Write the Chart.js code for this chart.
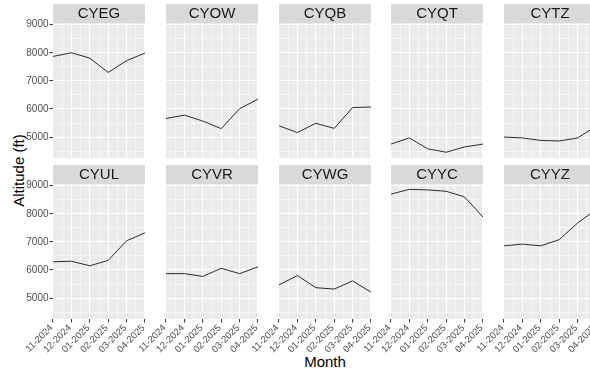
<!DOCTYPE html>
<html><head><meta charset="utf-8">
<script src="https://cdn.jsdelivr.net/npm/chart.js@4.4.0/dist/chart.umd.min.js"></script>
<style>
html,body{margin:0;padding:0;background:#fff;}
#wrap{position:relative;width:590px;height:373px;overflow:hidden;background:#fff;}
canvas{position:absolute;}
.t{position:absolute;font-family:"Liberation Sans",Arial,sans-serif;font-size:15px;line-height:15px;color:#000;text-align:center;white-space:nowrap;}
</style></head>
<body><div id="wrap">
<div class="t" id="xt" style="left:275px;top:354px;width:100px;">Month</div>
<div class="t" id="yt" style="left:-82px;top:163px;width:200px;transform:rotate(-90deg);">Altitude (ft)</div>
</div>
<script>
const months = ['11-2024','12-2024','01-2025','02-2025','03-2025','04-2025'];
const stations = ['CYEG','CYOW','CYQB','CYQT','CYTZ','CYUL','CYVR','CYWG','CYYC','CYYZ'];
const CYEG = [7870, 8000, 7810, 7300, 7720, 7990];
const CYOW = [5660, 5780, 5570, 5300, 6010, 6350];
const CYQB = [5400, 5160, 5490, 5310, 6050, 6070];
const CYQT = [4750, 4970, 4580, 4460, 4650, 4750];
const CYTZ = [5000, 4970, 4880, 4860, 4970, 5380];
const CYUL = [6290, 6310, 6150, 6340, 7040, 7320];
const CYVR = [5870, 5870, 5770, 6060, 5870, 6110];
const CYWG = [5470, 5800, 5370, 5320, 5610, 5210];
const CYYC = [8700, 8870, 8850, 8800, 8600, 7880];
const CYYZ = [6860, 6920, 6860, 7080, 7670, 8150];
const yTicks = [5000, 6000, 7000, 8000, 9000];

const series = {CYEG, CYOW, CYQB, CYQT, CYTZ, CYUL, CYVR, CYWG, CYYC, CYYZ};

const FONT = '"Liberation Sans", Arial, sans-serif';
const colLeft = [53, 166, 279, 391, 504];
const PW = 92, AXW = 53, STRIP = 19;

const yAll = [];
for (let v = yTicks[0] - 500; v <= yTicks[yTicks.length - 1]; v += 500) yAll.push(v);
const xAll = [];
for (let k = 0; k <= 2 * (months.length - 1); k++) xAll.push(k / 2);

function panelPlugin(label) {
  return {
    id: 'panel_' + label,
    beforeDraw(chart) {
      const {ctx, chartArea: a} = chart;
      ctx.save();
      ctx.fillStyle = '#ebebeb';
      ctx.fillRect(a.left, a.top, a.right - a.left, a.bottom - a.top);
      ctx.fillStyle = '#d9d9d9';
      ctx.fillRect(a.left, a.top - STRIP, a.right - a.left, STRIP);
      ctx.fillStyle = '#1a1a1a';
      ctx.font = '15px ' + FONT;
      ctx.textAlign = 'center';
      ctx.textBaseline = 'middle';
      ctx.fillText(label, (a.left + a.right) / 2, a.top - STRIP / 2 + 0.5);
      ctx.restore();
    }
  };
}

const wrap = document.getElementById('wrap');
stations.forEach((name, i) => {
  const r = Math.floor(i / 5), c = i % 5;
  const L = colLeft[c];
  const top = r === 0 ? 4 : 165;
  const h = r === 0 ? 154 : 208;
  const cv = document.createElement('canvas');
  cv.width = AXW + PW; cv.height = h;
  cv.style.left = (L - AXW) + 'px'; cv.style.top = top + 'px';
  cv.style.width = (AXW + PW) + 'px'; cv.style.height = h + 'px';
  wrap.appendChild(cv);
  const vals = series[name];
  new Chart(cv, {
    type: 'line',
    data: { datasets: [{ data: vals.map((v, j) => ({x: j, y: v})), borderColor: '#2b2b2b', borderWidth: 1, pointRadius: 0, tension: 0, fill: false }] },
    options: {
      responsive: false, animation: false, devicePixelRatio: 1,
      layout: { padding: { top: STRIP, left: 0, right: 0, bottom: 0 } },
      plugins: { legend: { display: false }, tooltip: { enabled: false }, title: { display: false } },
      scales: {
        x: {
          type: 'linear', min: 0, max: months.length - 1,
          afterBuildTicks: s => { s.ticks = xAll.map(v => ({value: v})); },
          afterFit: s => { s.height = r === 0 ? 0 : 54; s.paddingLeft = 0; s.paddingRight = 0; s.paddingTop = 0; s.paddingBottom = 0; },
          ticks: { display: r === 1, autoSkip: false, minRotation: 45, maxRotation: 45, padding: 0, labelOffset: -1.5,
                   color: '#4d4d4d', font: { family: FONT, size: 9.5 },
                   callback: v => Number.isInteger(v) ? months[v] : '' },
          grid: { color: '#ffffff', lineWidth: ctx => (ctx.tick && Number.isInteger(ctx.tick.value)) ? 1.1 : 0.55,
                  drawTicks: r === 1, tickLength: 3.5, tickWidth: 1,
                  tickColor: ctx => (ctx.tick && Number.isInteger(ctx.tick.value)) ? '#333333' : 'rgba(0,0,0,0)' },
          border: { display: false }
        },
        y: {
          type: 'linear', min: 4255, max: 9060,
          afterBuildTicks: s => { s.ticks = yAll.map(v => ({value: v})); },
          afterFit: s => { s.width = AXW; s.paddingTop = 0; s.paddingBottom = 0; },
          ticks: { display: c === 0, autoSkip: false, padding: 1, color: '#4d4d4d', font: { family: FONT, size: 10 },
                   callback: v => yTicks.includes(v) ? String(v) : '' },
          grid: { color: '#ffffff', lineWidth: ctx => (ctx.tick && yTicks.includes(ctx.tick.value)) ? 1.1 : 0.55,
                  drawTicks: c === 0, tickLength: 3.5, tickWidth: 1,
                  tickColor: ctx => (ctx.tick && yTicks.includes(ctx.tick.value)) ? '#333333' : 'rgba(0,0,0,0)' },
          border: { display: false }
        }
      }
    },
    plugins: [panelPlugin(name)]
  });
});
</script>
</body></html>
